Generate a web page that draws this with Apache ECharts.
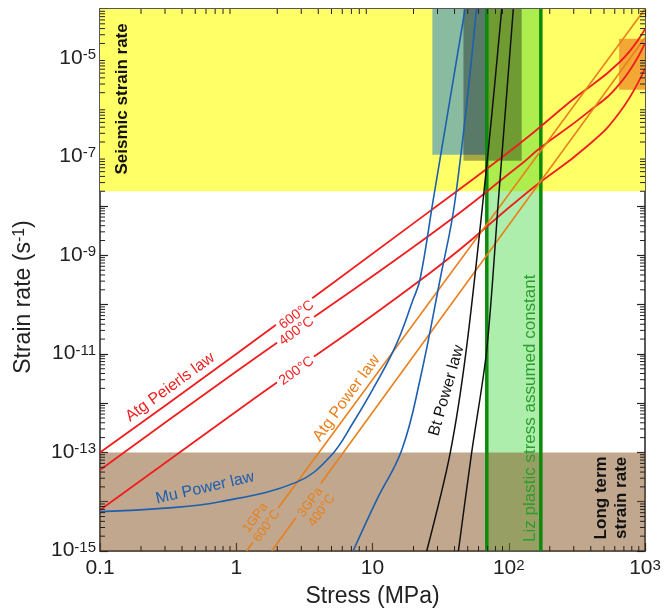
<!DOCTYPE html>
<html>
<head>
<meta charset="utf-8">
<script src="https://cdn.jsdelivr.net/npm/echarts@6/dist/echarts.min.js"></script>
<style>html,body{margin:0;padding:0;background:#fff}#main{width:667px;height:613px}</style>
</head>
<body>
<div id="main"></div>
<script>
// values: stress in MPa, strain rate in 1/s
var p600Stress = [0.1, 1, 26.4, 121, 282, 656, 1000];
var p600Rate = [1e-13, 1e-11, 7.9e-9, 1.88e-7, 1.31e-6, 8.5e-6, 3.9e-5];
var p400Stress = [0.1, 1, 26.4, 121, 169, 372, 656, 1000];
var p400Rate = [4.4e-14, 4.4e-12, 2.6e-9, 6.8e-8, 1.49e-7, 7.6e-7, 3.1e-6, 2.0e-5];
var p200Stress = [0.1, 1, 26.4, 143, 372, 656, 1000];
var p200Rate = [6.8e-15, 6.8e-13, 4.4e-10, 2.1e-8, 1.6e-7, 8.2e-7, 6.25e-6];

var atg1Stress = [1.19, 1000];
var atg1Rate = [1e-15, 1e-4];
var atg3Stress = [1.82, 1000];
var atg3Rate = [1e-15, 2.6e-5];

var mu1Stress = [0.1, 0.3, 0.76, 2.78, 4.88, 7.2, 10.7, 15.1, 19.8, 22.3, 27.9, 47.8];
var mu1Rate = [6.3e-15, 7.4e-15, 1.0e-14, 2.5e-14, 8.2e-14, 4.0e-13, 2.6e-12, 1.66e-11, 1.24e-10, 3.2e-10, 1.33e-8, 1e-4];
var mu2Stress = [7.2, 10.7, 16.4, 22.3, 31.3, 40.4, 58];
var mu2Rate = [1e-15, 1.07e-14, 1.12e-13, 2.95e-12, 3.2e-10, 1.33e-8, 1e-4];

var bt1Stress = [25, 37.1, 49.1, 70.8, 88.8];
var bt1Rate = [1e-15, 9.5e-14, 1.4e-11, 1.37e-7, 1e-4];
var bt2Stress = [42.7, 53.3, 68.9, 84, 108];
var bt2Rate = [1e-15, 9.5e-14, 1.2e-11, 1.33e-8, 1e-4];

// [stress from, stress to, rate from, rate to]
var seismicBand = [0.1, 1000, 2e-8, 1e-4];
var lizBand = [69, 172, 1e-15, 1e-4];
var longTermBand = [0.1, 1000, 1e-15, 1e-13];
var muBox = [27.5, 69, 1.1e-7, 1e-4];
var btBox = [46.5, 124.5, 8.3e-8, 1e-4];
var atgBox = [645, 1000, 2.3e-6, 2.5e-5];

var xTickText = ['0.1', '1', '10', '10^2', '10^3'];

var FONT = '"Liberation Sans", Arial, Helvetica, sans-serif';
var RED = '#f01e1e', ORANGE = '#e8801c', BLUE = '#1d5fb0', GREEN = '#0c8a0c';
var BROWN_ON_WHITE = '#c0a78e';

var rects = [seismicBand, lizBand, longTermBand, muBox, btBox, atgBox];
var rectColors = ['#ffff66', 'rgba(40,210,40,0.38)', 'rgba(130,80,30,0.5)',
  'rgba(20,120,220,0.5)', 'rgba(0,0,0,0.35)', 'rgba(235,110,20,0.6)'];

var xMinor = [], yMinor = [];
for (var k = -1; k < 3; k++) for (var m = 2; m < 10; m++) xMinor.push([m * Math.pow(10, k), 1e-10]);
for (var k = -15; k < -4; k++) for (var m = 2; m < 10; m++) yMinor.push([1, m * Math.pow(10, k)]);

function pairs(xs, ys) { return xs.map(function (x, i) { return [x, ys[i]]; }); }

function curve(xs, ys, color, width, smooth) {
  return {
    type: 'line', data: pairs(xs, ys), symbol: 'none', smooth: smooth,
    lineStyle: { color: color, width: width }, z: 5, silent: true
  };
}

function vline(x) {
  return { type: 'line', data: [[x, 1e-15], [x, 1e-4]], symbol: 'none',
    lineStyle: { color: GREEN, width: 3.5 }, z: 3, silent: true };
}

var rich = {
  b: { fontFamily: FONT, fontSize: 21, color: '#222', verticalAlign: 'top', lineHeight: 22 },
  s: { fontFamily: FONT, fontSize: 15, color: '#222', verticalAlign: 'top', lineHeight: 16 }
};

function xFmt(v) {
  var e = Math.round(Math.log10(v));
  if (e < 2) return '{b|' + xTickText[e + 1] + '}';
  return '{b|10}{s|' + e + '}';
}
function yFmt(v) {
  var e = Math.round(Math.log10(v));
  if (e % 2 === 0) return '';
  return '{b|10}{s|' + e + '}';
}

function axisBase(show) {
  return {
    type: 'log', logBase: 10, interval: 1,
    axisLine: { onZero: false, lineStyle: { color: '#222', width: 1.5 } },
    axisTick: { inside: true, length: 8, lineStyle: { color: '#222', width: 1.2 } },
    splitLine: { show: false },
    axisLabel: show ? { rich: rich, margin: 6 } : { show: false }
  };
}

var xb = axisBase(true); xb.min = 0.1; xb.max = 1000; xb.position = 'bottom'; xb.axisLabel.formatter = xFmt; xb.axisLabel.margin = 7;
var xt = axisBase(false); xt.min = 0.1; xt.max = 1000; xt.position = 'top';
var yl = axisBase(true); yl.min = 1e-15; yl.max = 1e-4; yl.position = 'left'; yl.axisLabel.formatter = yFmt; yl.axisLabel.margin = 4;
var yr = axisBase(false); yr.min = 1e-15; yr.max = 1e-4; yr.position = 'right';

var chart = echarts.init(document.getElementById('main'));
chart.setOption({
  animation: false,
  grid: { left: 100, right: 22, top: 9, bottom: 62 },
  xAxis: [xb, xt],
  yAxis: [yl, yr],
  series: [
    {
      type: 'custom', data: rects, silent: true, z: 1,
      encode: { x: [0, 1], y: [2, 3] },
      renderItem: function (params, api) {
        var a = api.coord([api.value(0), api.value(2)]);
        var b = api.coord([api.value(1), api.value(3)]);
        return { type: 'rect', shape: { x: a[0], y: b[1], width: b[0] - a[0], height: a[1] - b[1] },
          style: { fill: rectColors[params.dataIndex] } };
      }
    },
    vline(lizBand[0]), vline(lizBand[1]),
    curve(p600Stress, p600Rate, RED, 1.8, 0.5),
    curve(p400Stress, p400Rate, RED, 1.8, 0.5),
    curve(p200Stress, p200Rate, RED, 1.8, 0.5),
    curve(atg1Stress, atg1Rate, ORANGE, 1.6, false),
    curve(atg3Stress, atg3Rate, ORANGE, 1.6, false),
    curve(mu1Stress, mu1Rate, BLUE, 1.6, 0.4),
    curve(mu2Stress, mu2Rate, BLUE, 1.6, 0.4),
    curve(bt1Stress, bt1Rate, '#111', 1.5, 0.3),
    curve(bt2Stress, bt2Rate, '#111', 1.5, 0.3),
    {
      type: 'custom', data: xMinor, silent: true, z: 10,
      renderItem: function (params, api) {
        var p = api.coord([api.value(0), api.value(1)]);
        var cs = params.coordSys, yb = cs.y + cs.height;
        var st = { stroke: '#222', lineWidth: 1 };
        return { type: 'group', children: [
          { type: 'line', shape: { x1: p[0], y1: yb, x2: p[0], y2: yb - 5 }, style: st },
          { type: 'line', shape: { x1: p[0], y1: cs.y, x2: p[0], y2: cs.y + 5 }, style: st }
        ] };
      }
    },
    {
      type: 'custom', data: yMinor, silent: true, z: 10,
      renderItem: function (params, api) {
        var p = api.coord([api.value(0), api.value(1)]);
        var cs = params.coordSys, xr = cs.x + cs.width;
        var st = { stroke: '#222', lineWidth: 1 };
        return { type: 'group', children: [
          { type: 'line', shape: { x1: cs.x, y1: p[1], x2: cs.x + 5, y2: p[1] }, style: st },
          { type: 'line', shape: { x1: xr, y1: p[1], x2: xr - 5, y2: p[1] }, style: st }
        ] };
      }
    }
  ]
});

// annotations, anchored in data coordinates
var notes = [
  { text: 'Atg Peierls law', at: [0.327, 2.1e-12], rot: 36, color: RED, size: 16 },
  { text: '600°C', at: [2.77, 6.2e-11], rot: 36, color: RED, size: 14, bg: '#fff' },
  { text: '400°C', at: [2.77, 2.9e-11], rot: 36, color: RED, size: 14, bg: '#fff' },
  { text: '200°C', at: [2.77, 4.5e-12], rot: 36, color: RED, size: 14, bg: '#fff' },
  { text: 'Atg Power law', at: [6.45, 1.26e-12], rot: 54, color: ORANGE, size: 16 },
  { text: '1GPa\n600°C', at: [1.52, 3.9e-15], rot: 54, color: ORANGE, size: 13, bg: BROWN_ON_WHITE },
  { text: '3GPa\n400°C', at: [3.85, 8.1e-15], rot: 54, color: ORANGE, size: 13, bg: BROWN_ON_WHITE },
  { text: 'Mu Power law', at: [0.59, 1.9e-14], rot: 13, color: BLUE, size: 16 },
  { text: 'Bt Power law', at: [35, 1.8e-12], rot: 74, color: '#111', size: 16 },
  { text: 'Liz plastic stress assumed constant', at: [143, 7.9e-13], rot: 90, color: '#2a9e2a', size: 17 },
  { text: 'Seismic strain rate', at: [0.145, 1.5e-6], rot: 90, color: '#111', size: 17, bold: true },
  { text: 'Long term\nstrain rate', at: [562, 1.2e-14], rot: 90, color: '#111', size: 17, bold: true }
];

var graphics = notes.map(function (n) {
  var p = chart.convertToPixel({ xAxisIndex: 0, yAxisIndex: 0 }, n.at);
  var multi = n.text.indexOf('\n') >= 0;
  var style = {
    text: n.text, fill: n.color, align: 'center', verticalAlign: 'middle',
    font: (n.bold ? 'bold ' : '') + n.size + 'px ' + FONT,
    lineHeight: Math.round(n.size * 1.2)
  };
  if (n.bg) {
    style.backgroundColor = n.bg; style.padding = [0, 3];
    style.lineHeight = multi ? n.size + 1 : n.size;
  }
  return { type: 'text', x: p[0], y: p[1], rotation: n.rot * Math.PI / 180, z: 50, silent: true, style: style };
});

graphics.push({ type: 'text', x: 372.5, y: 597, z: 50, silent: true,
  style: { text: 'Stress (MPa)', font: '23px ' + FONT, fill: '#222', align: 'center', verticalAlign: 'middle' } });
graphics.push({ type: 'text', x: 24, y: 297, rotation: Math.PI / 2, z: 50, silent: true,
  style: { text: '{a|Strain rate (s}{s|-1}{a|)}', align: 'center', verticalAlign: 'middle',
    rich: { a: { font: '23px ' + FONT, fill: '#222', verticalAlign: 'top', lineHeight: 24 },
            s: { font: '16px ' + FONT, fill: '#222', verticalAlign: 'top', lineHeight: 16 } } } });

chart.setOption({ graphic: graphics });
</script>
</body>
</html>
